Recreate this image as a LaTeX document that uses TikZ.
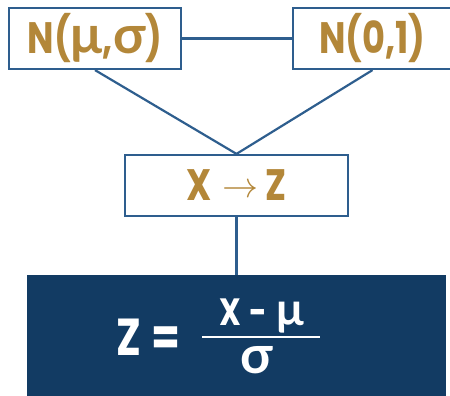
\documentclass[tikz,border=0pt]{standalone}
\usepackage{fontspec}
\setmainfont{Poppins}[FakeStretch=0.8]
\newfontfamily\gk{Lato}[Scale=1.2]
\definecolor{gold}{HTML}{B38739}
\definecolor{edgeblue}{HTML}{2E5E8E}
\definecolor{navy}{HTML}{123B63}
\begin{document}
\begin{tikzpicture}[x=1pt,y=-1pt,
  box/.style={draw=edgeblue,line width=2.2pt,fill=white,inner sep=0pt,
    text=gold,font=\fontsize{44}{48}\selectfont\bfseries},
  link/.style={draw=edgeblue,line width=2.2pt},
  formula/.style={text=white,inner sep=0pt,font=\bfseries}]
\useasboundingbox (0,0) rectangle (450,396);
\node[box,minimum width=172pt,minimum height=61pt] (b1) at (95,38.5) {N({\gk μ},{\gk σ})};
\node[box,minimum width=159pt,minimum height=61pt] (b2) at (372.5,38.5) {N(0,1)};
\node[box,minimum width=223pt,minimum height=61pt] (b3) at (236.5,185.5)
  {X\hspace{10pt}\raisebox{3pt}{\resizebox{36pt}{!}{$\rightarrow$}}\hspace{7pt}Z};
\node[fill=navy,minimum width=419pt,minimum height=125pt,inner sep=0pt] (eq) at (236.5,337.5) {};
\draw[link] (b1.east) -- (b2.west);
\draw[link] (b1.south) -- (b3.north);
\draw[link] (b2.south) -- (b3.north);
\draw[link] (b3.south) -- (eq.north);
\node[formula,font=\fontsize{52}{56}\selectfont\bfseries] (zl) at (148.5,337) {Z\hspace{10pt}=};
\node[formula,font=\fontsize{38}{42}\selectfont\bfseries,anchor=base,
  text height=24pt,text depth=8pt] (num) at (261.5,325) {X\hspace{9pt}-\hspace{9pt}{\gk μ}};
\node[formula,font=\fontsize{44}{48}\selectfont\bfseries\gk,anchor=base,
  text height=22pt,text depth=1pt] (den) at (256.5,373) {σ};
\coordinate (barl) at (202,337);
\coordinate (barr) at (320,337);
\draw[white,line width=2.4pt] (barl) -- (barr);
\end{tikzpicture}
\end{document}
